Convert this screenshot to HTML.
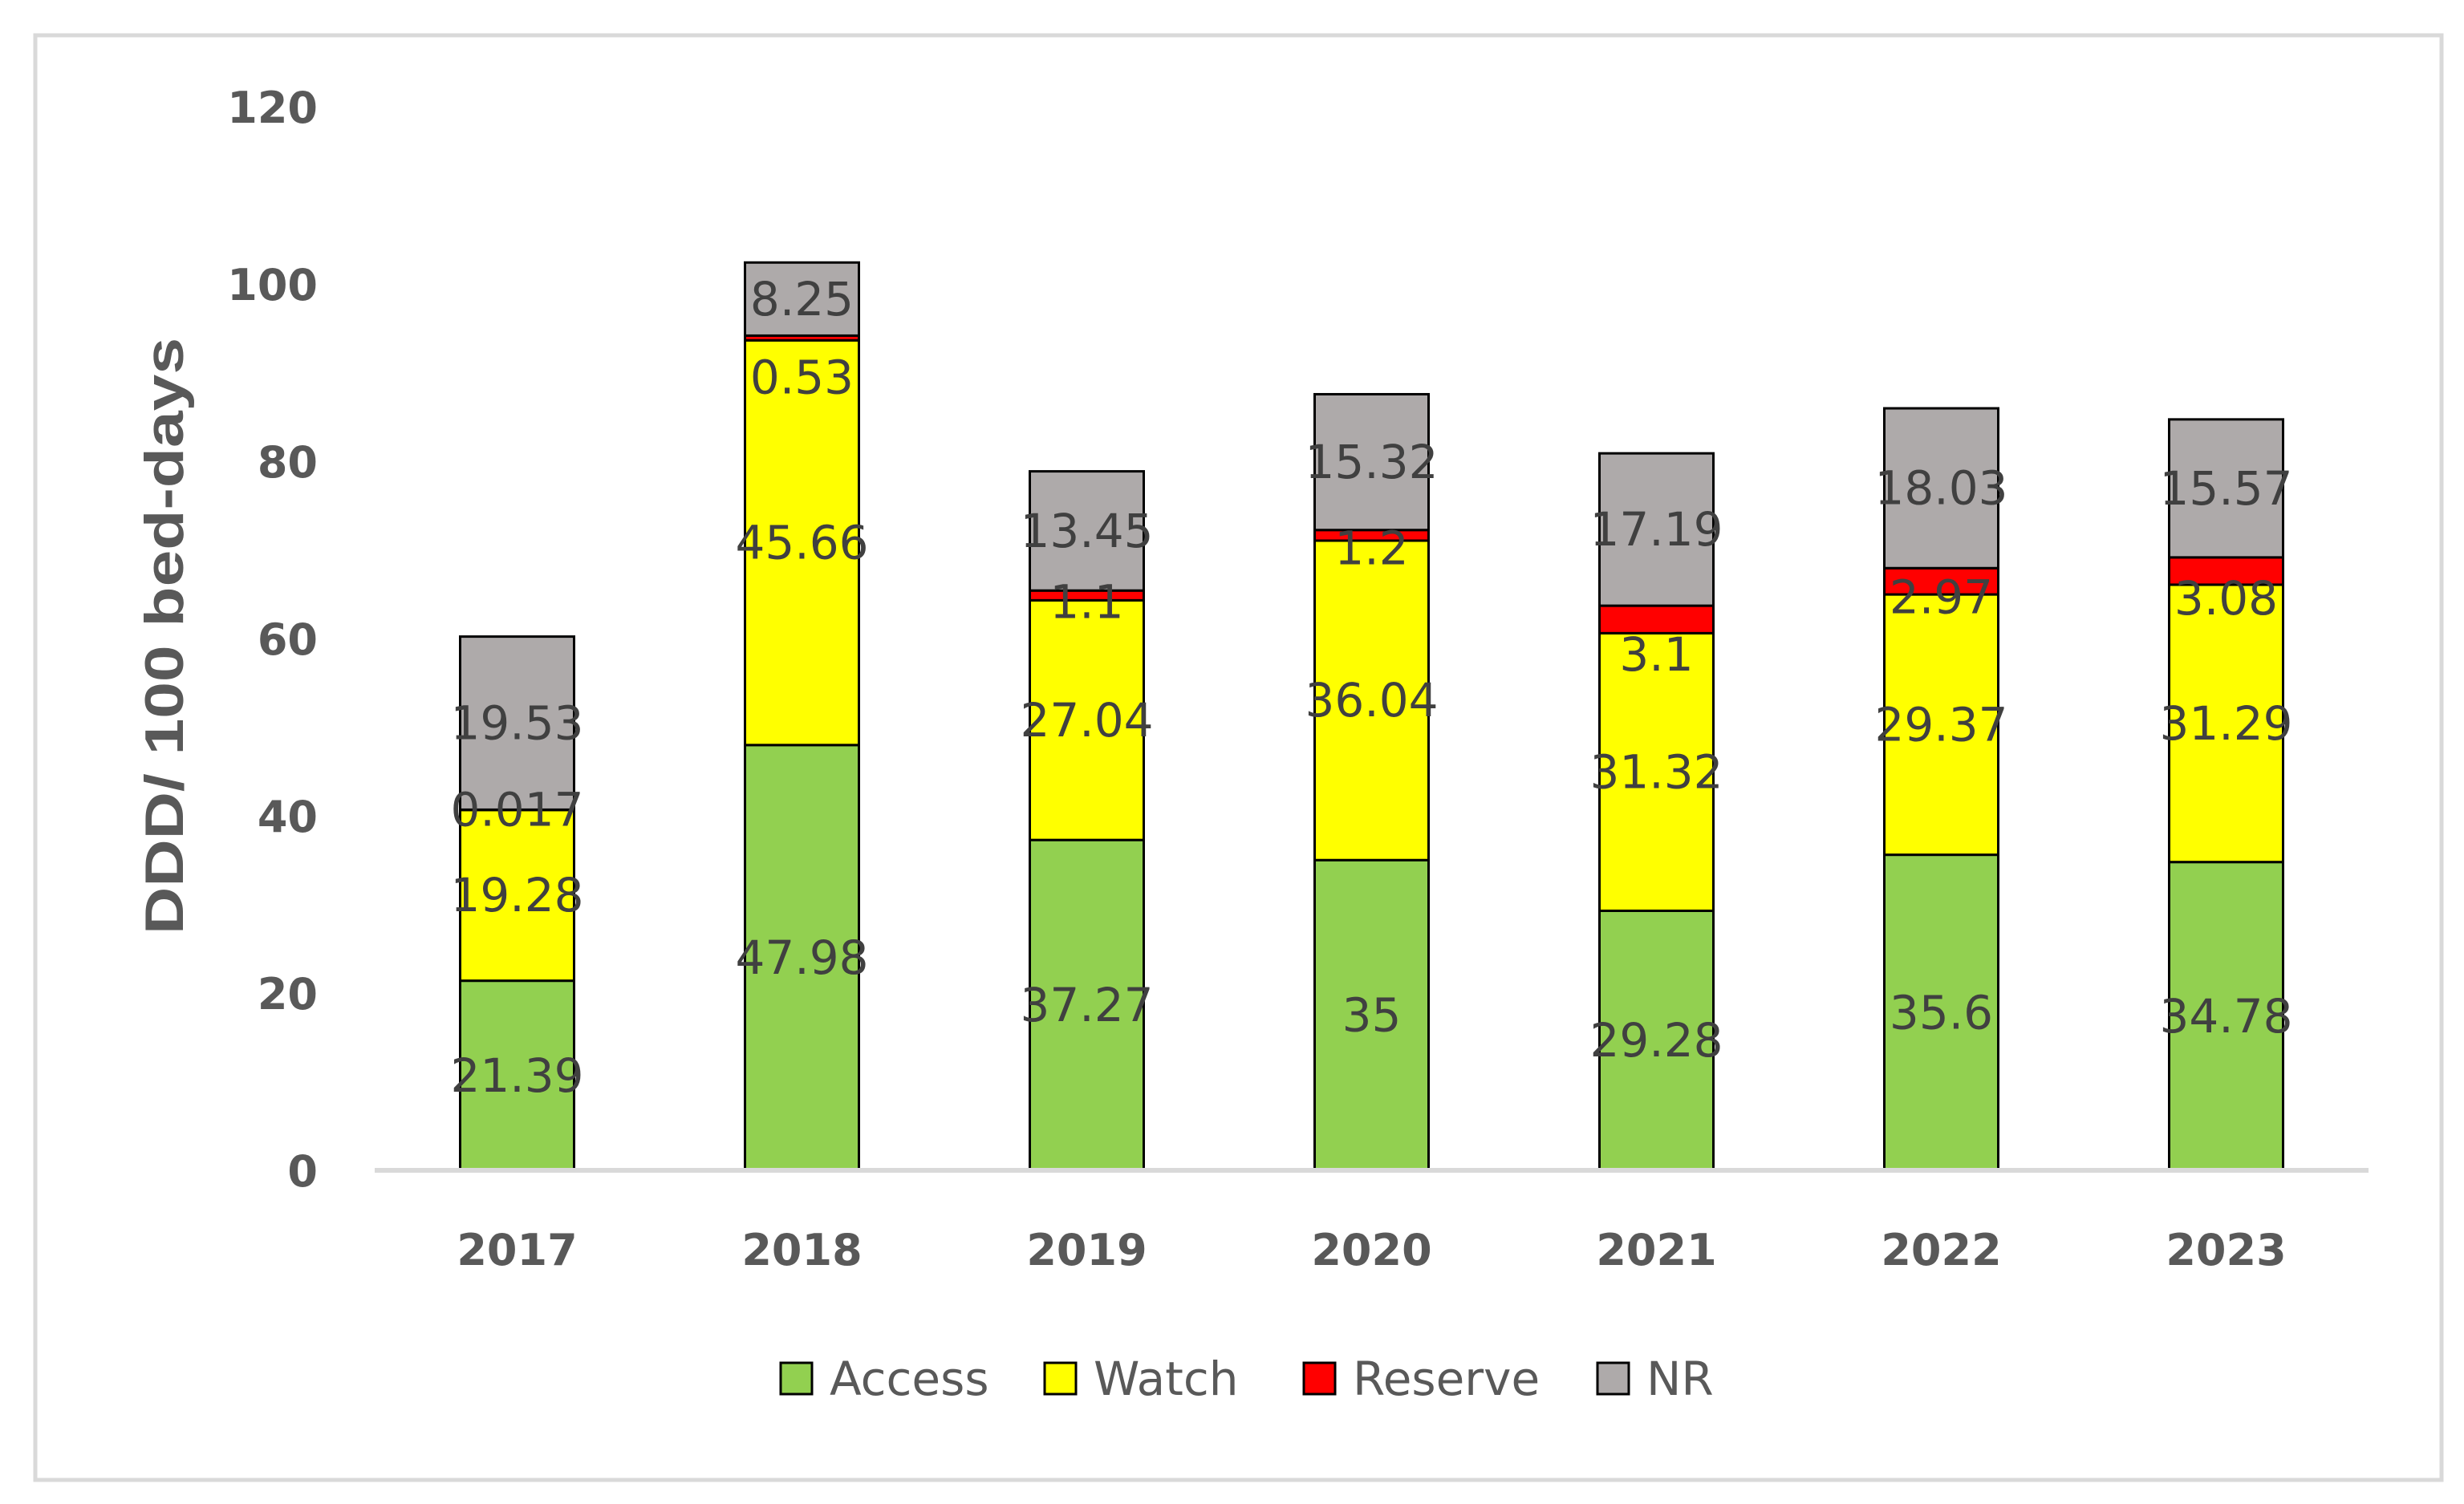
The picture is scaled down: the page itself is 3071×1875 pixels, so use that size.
<!DOCTYPE html>
<html><head><meta charset="utf-8"><style>
html,body{margin:0;padding:0;background:#fff;}
svg{display:block;}
</style></head><body>
<svg id="chart" width="3071" height="1875" viewBox="0 0 3071 1875" xmlns="http://www.w3.org/2000/svg">
<rect x="44" y="44" width="2999" height="1801" fill="#fff" stroke="#d9d9d9" stroke-width="5"/>
<g id="yticks"></g>
<g id="bars"></g>
<g id="labels"></g>
<line x1="467" y1="1459" x2="2952" y2="1459" stroke="#d9d9d9" stroke-width="6"/>
<g id="xticks"></g>
<text transform="translate(228,793) rotate(-90)" text-anchor="middle" font-family="Liberation Sans, sans-serif" font-weight="bold" font-size="68" fill="#595959" textLength="744" lengthAdjust="spacingAndGlyphs">DDD/ 100 bed-days</text>
<g id="legend"></g>
</svg>
<script>
const categories = ['2017','2018','2019','2020','2021','2022','2023'];
const accessValues = [21.39,47.98,37.27,35,29.28,35.6,34.78];
const watchValues = [19.28,45.66,27.04,36.04,31.32,29.37,31.29];
const reserveValues = [0.017,0.53,1.1,1.2,3.1,2.97,3.08];
const nrValues = [19.53,8.25,13.45,15.32,17.19,18.03,15.57];
const accessLabels = ['21.39','47.98','37.27','35','29.28','35.6','34.78'];
const watchLabels = ['19.28','45.66','27.04','36.04','31.32','29.37','31.29'];
const reserveLabels = ['0.017','0.53','1.1','1.2','3.1','2.97','3.08'];
const nrLabels = ['19.53','8.25','13.45','15.32','17.19','18.03','15.57'];
const yTickValues = [0,20,40,60,80,100,120];
const seriesNames = ['Access','Watch','Reserve','NR'];

const NS='http://www.w3.org/2000/svg';
const colors=['#92d050','#ffff00','#ff0000','#aeaaaa'];
const reserveNudge=[0,49,8,16,44,20,34];
const x0=467, x1=2952, y0=1459, pxPerUnit=11.05;
const band=(x1-x0)/categories.length, barW=142;
function yScale(v){return y0-v*pxPerUnit;}
function xCenter(i){return x0+band*(i+0.5);}
function mk(tag,attrs,parent){const e=document.createElementNS(NS,tag);for(const k in attrs)e.setAttribute(k,attrs[k]);parent.appendChild(e);return e;}

const yt=document.getElementById('yticks');
yTickValues.forEach(v=>{
  const t=mk('text',{x:396,y:yScale(v)+20,'text-anchor':'end','font-family':'DejaVu Sans, sans-serif','font-weight':'bold','font-size':54,fill:'#595959'},yt);
  
  
  t.textContent=String(v);
});
const xt=document.getElementById('xticks');
categories.forEach((c,i)=>{
  const t=mk('text',{x:xCenter(i),y:1577,'text-anchor':'middle','font-family':'DejaVu Sans, sans-serif','font-weight':'bold','font-size':54,fill:'#595959'},xt);
  
  
  t.textContent=c;
});
const series=[accessValues,watchValues,reserveValues,nrValues];
const labels=[accessLabels,watchLabels,reserveLabels,nrLabels];
const bg=document.getElementById('bars'), lg=document.getElementById('labels');
categories.forEach((c,i)=>{
  let cum=0;
  series.forEach((s,k)=>{
    const v=s[i];
    const top=yScale(cum+v), bot=yScale(cum);
    const r=mk('rect',{x:xCenter(i)-barW/2,y:top,width:barW,height:Math.max(bot-top,0.5),fill:colors[k],stroke:'#000','stroke-width':3},bg);
    
    
    const cy=(top+bot)/2+(k===2?reserveNudge[i]:0);
    const t=mk('text',{x:xCenter(i),y:cy+20,'text-anchor':'middle','font-family':'DejaVu Sans, sans-serif','font-size':58,fill:'#404040'},lg);
    
    
    t.textContent=labels[k][i];
    cum+=v;
  });
});
const leg=document.getElementById('legend');
const legX=[973,1302,1625,1991];
seriesNames.forEach((n,k)=>{
  const r=mk('rect',{x:legX[k],y:1699,width:39,height:39,fill:colors[k],stroke:'#000','stroke-width':3},leg);
  
  
  const t=mk('text',{x:legX[k]+61,y:1739,'font-family':'DejaVu Sans, sans-serif','font-size':58,fill:'#595959'},leg);
  
  
  t.textContent=n;
});
</script>
</body></html>
